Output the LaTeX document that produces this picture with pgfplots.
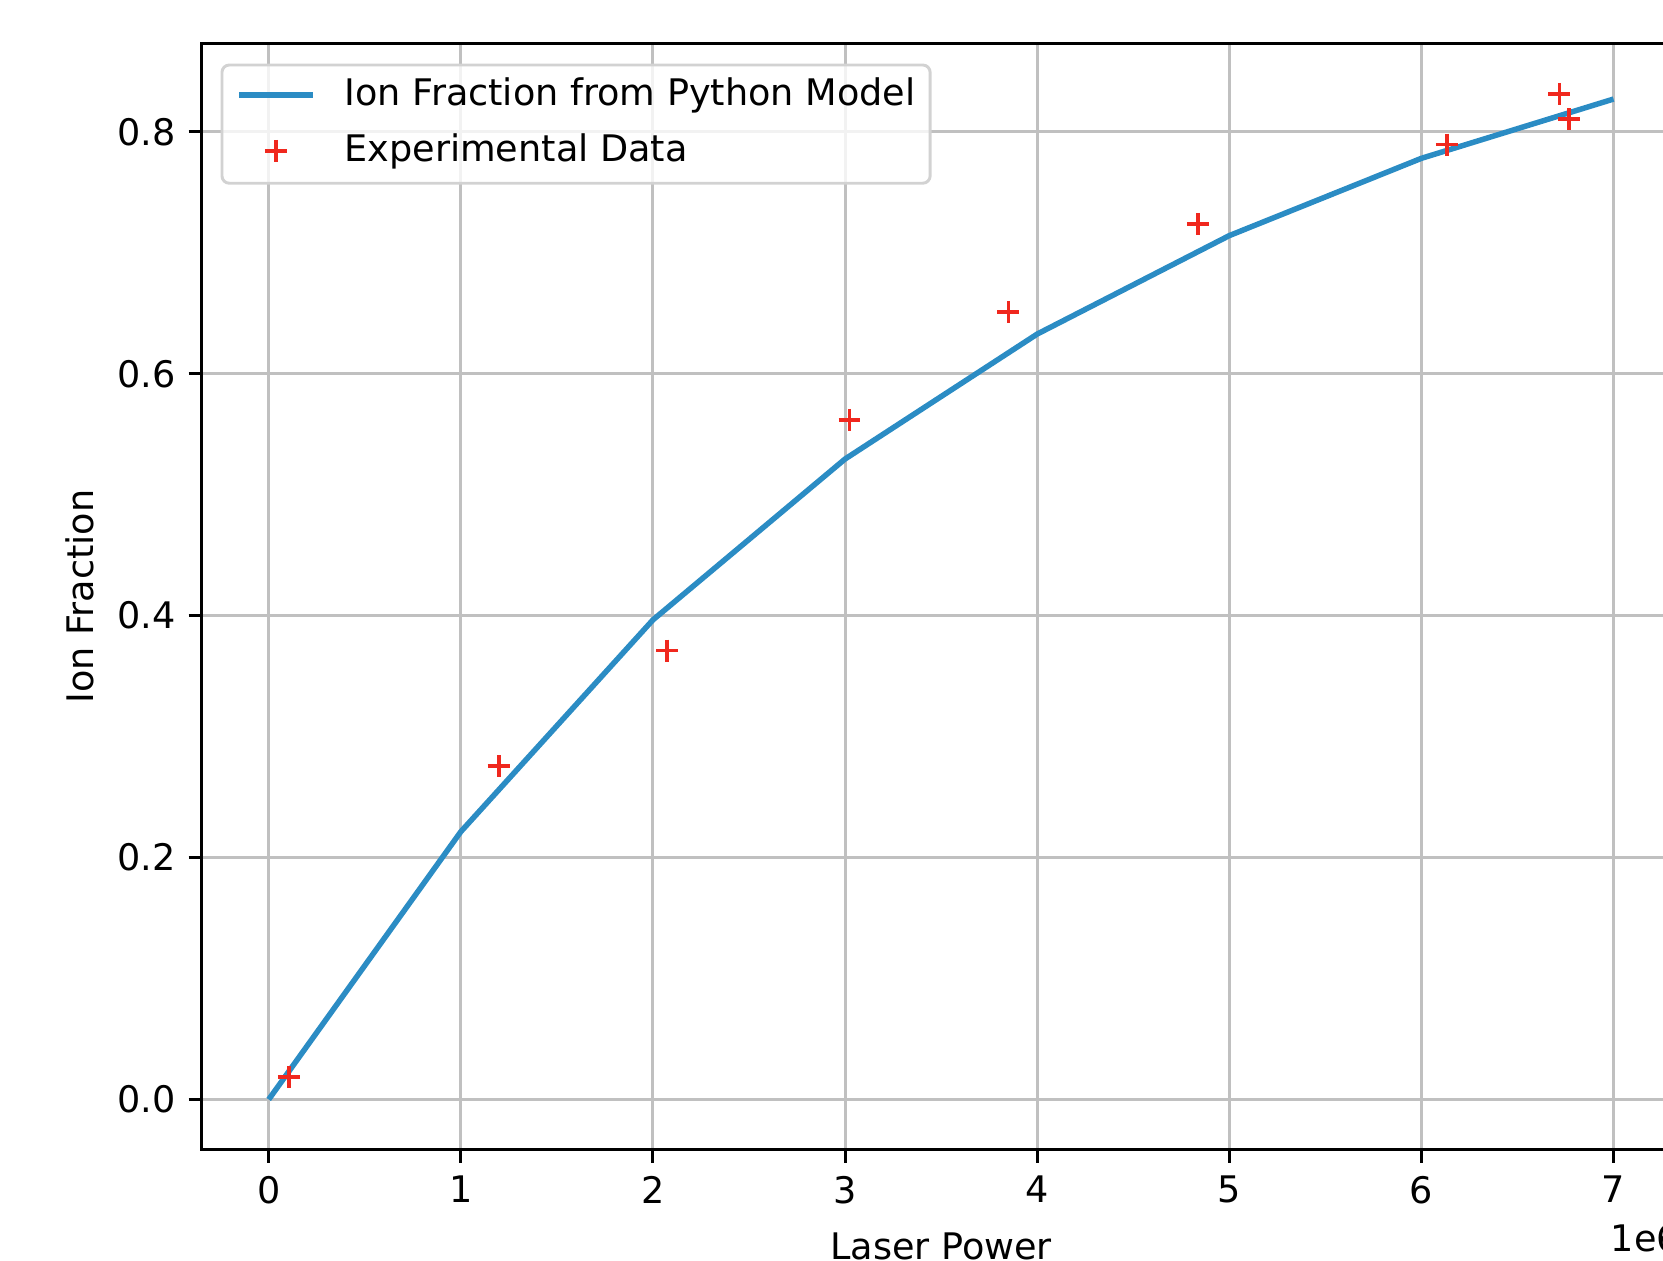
\documentclass[border=0pt]{standalone}
\usepackage{fontspec}
\setmainfont{DejaVu Sans}
\usepackage{pgfplots}
\pgfplotsset{compat=1.18}

\definecolor{modelblue}{RGB}{43,140,196}
\definecolor{datared}{RGB}{240,40,30}
\definecolor{gridgray}{RGB}{192,192,192}
\definecolor{legendgray}{RGB}{210,210,210}

\begin{document}
\begin{tikzpicture}
\begin{axis}[
  name=ax,
  at={(0,0)}, anchor=south west,
  scale only axis,
  width=404.2pt, height=302.3pt,
  font=\fontsize{10pt}{12pt}\selectfont,
  /pgf/number format/assume math mode=true,
  xmin=-350000, xmax=7350000,
  ymin=-0.0416, ymax=0.8731,
  xtick={0,1000000,2000000,3000000,4000000,5000000,6000000,7000000},
  ytick={0,0.2,0.4,0.6,0.8},
  scaled x ticks=base 10:-6,
  xtick scale label code/.code={1e6},
  every x tick scale label/.style={at={(rel axis cs:1,0)}, anchor=north east, inner sep=0pt, yshift=-16.6pt},
  xticklabel style={inner sep=0pt, yshift=-3.5pt},
  yticklabel style={inner sep=0pt, xshift=-3.3pt,
    /pgf/number format/fixed, /pgf/number format/fixed zerofill,
    /pgf/number format/precision=1},
  tick align=outside,
  tick pos=left,
  major tick length=3.5pt,
  every tick/.style={line width=0.8pt, black},
  axis line style={line width=0.8pt},
  grid=major,
  major grid style={line width=0.8pt, gridgray},
  xlabel={Laser Power},
  ylabel={Ion Fraction},
  xlabel style={at={(axis description cs:0.5,-0.0741)}, anchor=north, inner sep=0pt},
  ylabel style={at={(axis description cs:-0.072,0.5)}, anchor=south, inner sep=0pt},
  legend cell align={left},
  legend style={
    at={(axis description cs:0,1)}, anchor=north west,
    xshift=5.2pt, yshift=-5.5pt,
    draw=legendgray, line width=0.8pt, rounded corners=2pt,
    fill=white, fill opacity=0.8, text opacity=1,
    inner xsep=4pt, inner ysep=3.8pt,
    row sep=5.7pt,
    nodes={inner sep=0pt, text height=7.3pt, text depth=2.2pt},
    /tikz/every odd column/.append style={column sep=8pt},
  },
  legend image code/.code={
    \draw[mark repeat=2, mark phase=2] plot coordinates {(0pt,0.3pt) (10pt,0.3pt) (20pt,0.3pt)};
  },
]
\addplot [modelblue, line width=1.5pt] coordinates {
  (0,0)
  (1000000,0.2214)
  (2000000,0.3965)
  (3000000,0.5295)
  (4000000,0.6328)
  (5000000,0.7142)
  (6000000,0.7781)
  (7000000,0.8271)
};
\addlegendentry{Ion Fraction from Python Model}
\addplot [only marks, mark=+, mark size=3pt, datared, mark options={line width=1pt}] coordinates {
  (105000,0.0184)
  (1197000,0.2757)
  (2074000,0.3711)
  (3023000,0.5619)
  (3850000,0.6512)
  (4837000,0.7239)
  (6133000,0.7895)
  (6718000,0.8315)
  (6768000,0.8105)
};
\addlegendentry{Experimental Data}
\end{axis}
\pgfresetboundingbox
\path[use as bounding box] (-55.05pt,-30.33pt) rectangle (399.35pt,314.17pt);
\end{tikzpicture}
\end{document}
